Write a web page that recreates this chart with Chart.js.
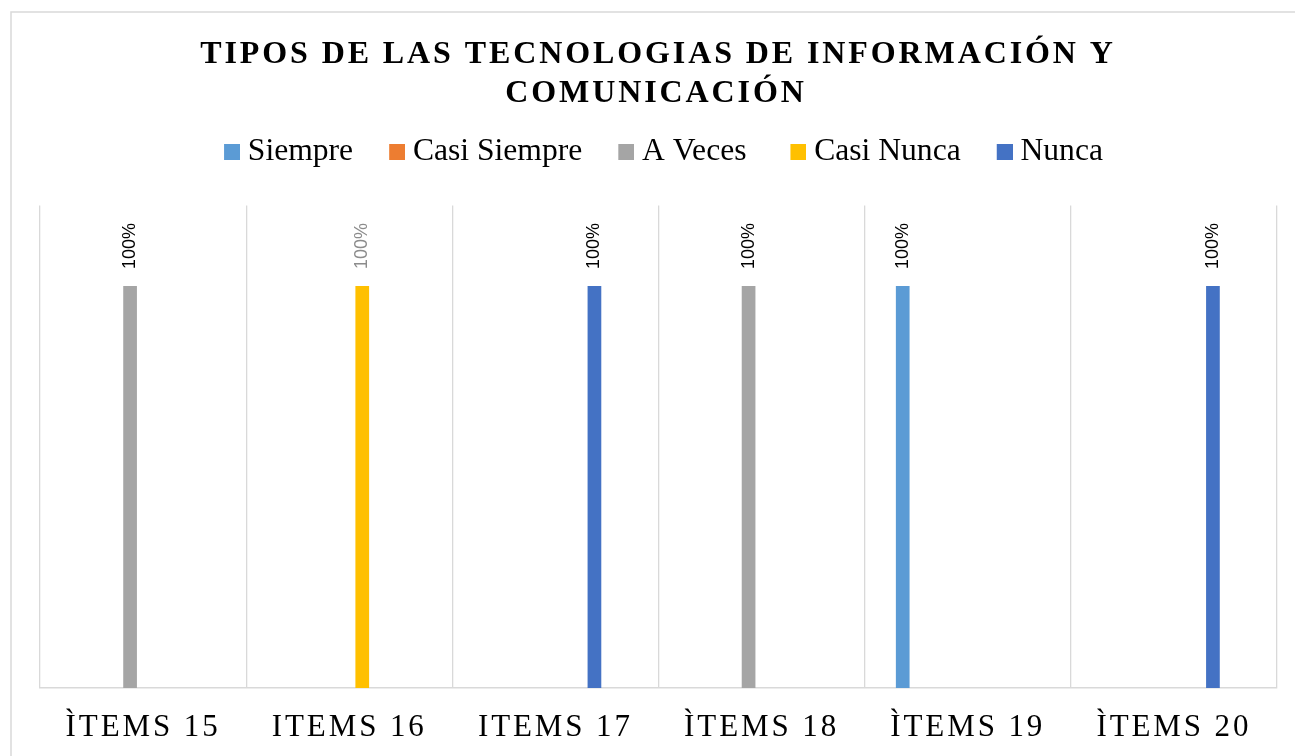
<!DOCTYPE html>
<html>
<head>
<meta charset="utf-8">
<script src="https://cdn.jsdelivr.net/npm/chart.js@4.4.0/dist/chart.umd.min.js"></script>
<style>
  html, body { margin: 0; padding: 0; background: #fff; overflow: hidden; }
  #wrap { width: 1295px; height: 756px; }
</style>
</head>
<body>
<div id="wrap"><canvas id="chart"></canvas></div>
<script>
let items = ['ÌTEMS 15', 'ITEMS 16', 'ITEMS 17', 'ÌTEMS 18', 'ÌTEMS 19', 'ÌTEMS 20'];
let siempre = [null, null, null, null, 100, null];
let casiSiempre = [null, null, null, null, null, null];
let aVeces = [100, null, null, 100, null, null];
let casiNunca = [null, 100, null, null, null, null];
let nunca = [null, null, 100, null, null, 100];
let sinSerie = [null, null, null, null, null, null];
let titulo = ['TIPOS DE LAS TECNOLOGIAS DE INFORMACIÓN Y', 'COMUNICACIÓN'];

// square for the legend, pushed to the right side of a wider image
function cuadro(color) {
    let c = document.createElement('canvas');
    c.width = 60;
    c.height = 16;
    let g = c.getContext('2d');
    g.fillStyle = color;
    g.fillRect(44, 0, 16, 16);
    return c;
}

const marco = {
    id: 'marco',
    beforeDraw(chart) {
        let ctx = chart.ctx;
        ctx.letterSpacing = '0px';
        ctx.save();
        ctx.strokeStyle = '#d9d9d9';
        ctx.lineWidth = 1.5;
        ctx.beginPath();
        ctx.moveTo(11, 760);
        ctx.lineTo(11, 12);
        ctx.lineTo(1300, 12);
        ctx.stroke();
        ctx.restore();
    },
    afterDatasetsDraw(chart, args, opts) {
        let ctx = chart.ctx;
        ctx.save();
        ctx.font = '18px "Liberation Sans"';
        ctx.textAlign = 'left';
        ctx.textBaseline = 'middle';
        chart.data.datasets.forEach((ds, i) => {
            chart.getDatasetMeta(i).data.forEach((bar, j) => {
                let v = ds.data[j];
                if (v == null) return;
                ctx.save();
                ctx.translate(bar.x, bar.y - 17);
                ctx.rotate(-Math.PI / 2);
                ctx.fillStyle = opts.colores[j];
                ctx.fillText(v + '%', 0, 0);
                ctx.restore();
            });
        });
        ctx.restore();
        // x labels are drawn after this (ticks z: 1)
        ctx.letterSpacing = '2.9px';
    },
    afterDraw(chart) {
        let ctx = chart.ctx;
        ctx.save();
        ctx.font = 'bold 32px "Liberation Serif"';
        ctx.fillStyle = '#000';
        ctx.textAlign = 'center';
        ctx.textBaseline = 'alphabetic';
        ctx.letterSpacing = '2.9px';
        ctx.fillText(titulo[0], 658, 63);
        ctx.fillText(titulo[1], 656, 101.5);
        ctx.restore();
        ctx.letterSpacing = '0px';
    }
};

new Chart(document.getElementById('chart'), {
    type: 'bar',
    data: {
        labels: items,
        datasets: [
            {label: 'Siempre', data: siempre, backgroundColor: '#5B9BD5'},
            {label: 'Casi Siempre', data: casiSiempre, backgroundColor: '#ED7D31'},
            {label: 'A Veces ', data: aVeces, backgroundColor: '#A5A5A5'},
            {label: 'Casi Nunca', data: casiNunca, backgroundColor: '#FFC000'},
            {label: 'Nunca', data: nunca, backgroundColor: '#4472C4'},
            {label: '', data: sinSerie, backgroundColor: '#264478'}
        ]
    },
    options: {
        responsive: true,
        maintainAspectRatio: false,
        animation: false,
        categoryPercentage: 0.757,
        barPercentage: 0.527,
        layout: {padding: {top: 136, left: 14, right: 18, bottom: 0}},
        scales: {
            x: {
                afterFit(s) { s.height = 68; },
                grid: {color: '#d9d9d9', lineWidth: 1.3, drawTicks: false},
                border: {color: '#d9d9d9', width: 1.5},
                ticks: {
                    z: 1,
                    padding: 21,
                    color: '#000',
                    maxRotation: 0,
                    font: {family: '"Liberation Serif"', size: 31, lineHeight: 1.2}
                }
            },
            // empty band between legend and plot
            espacio: {
                type: 'category',
                position: 'top',
                afterFit(s) { s.height = 28; },
                grid: {display: false},
                border: {display: false},
                ticks: {display: false}
            },
            y: {
                min: 0,
                max: 120,
                afterFit(s) { s.width = 26; },
                grid: {display: false},
                border: {display: false},
                ticks: {display: false}
            }
        },
        plugins: {
            tooltip: {enabled: false},
            marco: {colores: ['#000', '#8c8c8c', '#000', '#000', '#000', '#000']},
            legend: {
                position: 'top',
                labels: {
                    usePointStyle: true,
                    pointStyleWidth: 44,
                    padding: 0,
                    color: '#000',
                    font: {family: '"Liberation Serif"', size: 31.6},
                    generateLabels(chart) {
                        let base = Chart.defaults.plugins.legend.labels.generateLabels(chart);
                        return base.filter(l => l.text !== '').map(l => {
                            l.pointStyle = cuadro(l.fillStyle);
                            return l;
                        });
                    }
                }
            }
        }
    },
    plugins: [marco]
});
</script>
</body>
</html>
